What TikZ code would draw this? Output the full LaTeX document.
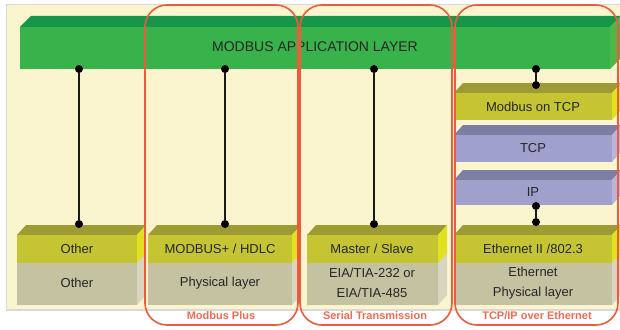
\documentclass[tikz,border=0pt]{standalone}
\usepackage{fontspec}
\setmainfont{Liberation Sans}
\definecolor{cream}{HTML}{FBF5CF}
\definecolor{gfront}{HTML}{38B24A}
\definecolor{gtop}{HTML}{17964A}
\definecolor{gside}{HTML}{4DB848}
\definecolor{yfront}{HTML}{C5C533}
\definecolor{ytop}{HTML}{9E9B35}
\definecolor{yside}{HTML}{E2E11E}
\definecolor{pfront}{HTML}{C4C2A0}
\definecolor{pside}{HTML}{D8D6C0}
\definecolor{lfront}{HTML}{9FA0CC}
\definecolor{ltop}{HTML}{7D7EA3}
\definecolor{lside}{HTML}{B5B6DA}
\definecolor{redline}{HTML}{EE5A3C}
\tikzset{
  blocktext/.style={font=\fontsize{13}{19.5}\selectfont, text=black!85, align=center, inner sep=0pt},
  dotnode/.style={circle, fill=black, inner sep=0pt, minimum size=8pt},
  link/.style={line width=1.5pt, black!90},
  group/.style={draw=redline, line width=1.6pt, rounded corners=22pt},
  grouplabel/.style={font=\fontsize{11}{12}\selectfont\bfseries, text=redline!90, inner sep=0pt}
}
% #1 x1, #2 y1 (top of front), #3 x2, #4 y2, #5 front, #6 top, #7 side
\newcommand\slab[7]{%
  \fill[#6] (#1,#2) -- ({#1+9},{#2-10}) -- ({#3+9},{#2-10}) -- (#3,#2) -- cycle;
  \fill[#7] (#3,#2) -- ({#3+9},{#2-10}) -- ({#3+9},{#4-10}) -- (#3,#4) -- cycle;
  \fill[#5] (#1,#2) rectangle (#3,#4);
}
\begin{document}
\begin{tikzpicture}[x=1pt,y=-1pt]
\useasboundingbox (0,0) rectangle (620,329);
\fill[white] (0,0) rectangle (620,329);
% background panel
\fill[black!15] (6,4) rectangle (620,311);
\fill[cream] (7,5) rectangle (620,309);

% green application layer bar
\fill[gtop] (20,27) -- (31,16) -- (621,16) -- (610,27) -- cycle;
\fill[gside] (610,27) -- (621,16) -- (621,58) -- (610,69) -- cycle;
\fill[gfront] (20,27) rectangle (610,69);
\node[font=\fontsize{14}{16}\selectfont, text=black!85] (app) at (315,47) {MODBUS APPLICATION LAYER};

% column 1
\slab{17}{263}{137}{305}{pfront}{pfront}{pside}
\slab{17}{235}{137}{263}{yfront}{ytop}{yside}
\node[blocktext] (o1) at (77,249) {Other};
\node[blocktext] (o2) at (77,283) {Other};

% column 2
\slab{148}{263}{292}{305}{pfront}{pfront}{pside}
\slab{148}{235}{292}{263}{yfront}{ytop}{yside}
\node[blocktext] (hdlc) at (220,249) {MODBUS+ / HDLC};
\node[blocktext] (phy2) at (220,283) {Physical layer};

% column 3
\slab{307}{263}{438}{305}{pfront}{pfront}{pside}
\slab{307}{235}{438}{263}{yfront}{ytop}{yside}
\node[blocktext] (ms) at (372,249) {Master / Slave};
\node[blocktext] (eia) at (372,283) {EIA/TIA-232 or\\EIA/TIA-485};

% column 4
\slab{454}{93}{612}{120}{yfront}{ytop}{yside}
\node[blocktext] (mtcp) at (533,107) {Modbus on TCP};
\slab{454}{135}{612}{162}{lfront}{ltop}{lside}
\node[blocktext] (tcp) at (533,148) {TCP};
\slab{454}{180}{612}{205}{lfront}{ltop}{lside}
\node[blocktext] (ip) at (533,192) {IP};
\slab{454}{263}{612}{305}{pfront}{pfront}{pside}
\slab{454}{235}{612}{263}{yfront}{ytop}{yside}
\node[blocktext] (eth) at (533,249) {Ethernet II /802.3};
\node[blocktext] (ephy) at (533,283) {Ethernet\\Physical layer};

% dots and links
\node[dotnode] (a1) at (79,69) {};
\node[dotnode] (b1) at (79,224) {};
\node[dotnode] (a2) at (225,69) {};
\node[dotnode] (b2) at (225,224) {};
\node[dotnode] (a3) at (374,69) {};
\node[dotnode] (b3) at (374,224) {};
\node[dotnode] (a4) at (536,69) {};
\node[dotnode] (b4) at (536,85) {};
\node[dotnode] (c4) at (536,206) {};
\node[dotnode] (d4) at (536,222) {};
\draw[link] (a1) -- (b1);
\draw[link] (a2) -- (b2);
\draw[link] (a3) -- (b3);
\draw[link] (a4) -- (b4);
\draw[link] (c4) -- (d4);

% groups
\draw[group] (145,5) rectangle (298,325);
\draw[group] (300,5) rectangle (452,325);
\draw[group] (455,5) rectangle (618,325);
\node[grouplabel] (l2) at (221,316) {Modbus Plus};
\node[grouplabel] (l3) at (375,316) {Serial Transmission};
\node[grouplabel] (l4) at (537,316) {TCP/IP over Ethernet};
\end{tikzpicture}
\end{document}
